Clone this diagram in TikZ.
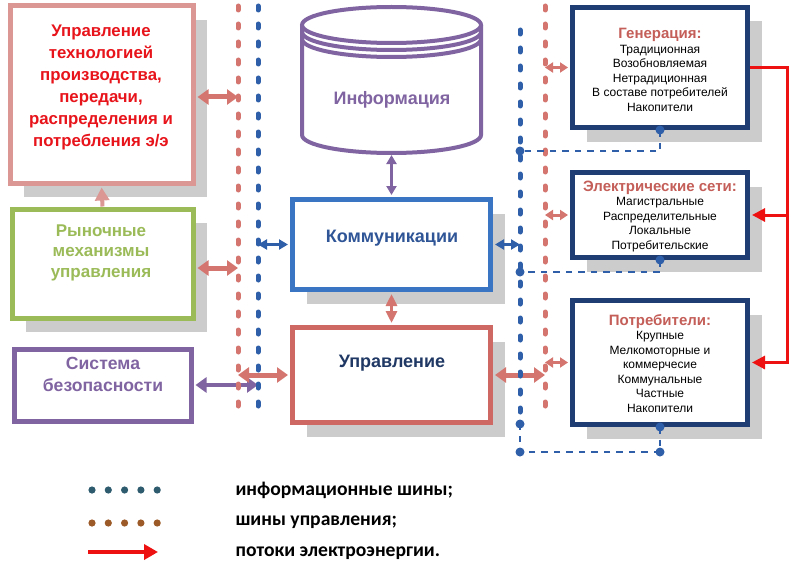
\documentclass[tikz,border=0pt]{standalone}
\usepackage{fontspec}
\setmainfont{Liberation Sans}
\newfontfamily\legendfont{Carlito}
\usetikzlibrary{arrows.meta,shadows}
\definecolor{pinkframe}{HTML}{DB9793}
\definecolor{brightred}{HTML}{E8141B}
\definecolor{greenc}{HTML}{9BBB59}
\definecolor{purplec}{HTML}{8064A2}
\definecolor{blueframe}{HTML}{3A75C4}
\definecolor{bluetext}{HTML}{2F5597}
\definecolor{redframe}{HTML}{CD6863}
\definecolor{navytext}{HTML}{1F3864}
\definecolor{navyframe}{HTML}{1F3C73}
\definecolor{titlered}{HTML}{C45E58}
\definecolor{redbus}{HTML}{D4766F}
\definecolor{bluebus}{HTML}{2E5FA8}
\definecolor{powerred}{HTML}{EE1111}
\definecolor{shadowc}{HTML}{CCCCCC}
\definecolor{legblue}{HTML}{2E5C6E}
\definecolor{legbrown}{HTML}{9C5A28}
\begin{document}
\begin{tikzpicture}[x=1pt,y=-1pt,
  box/.style={draw, line width=5pt, fill=white, inner sep=0pt},
  shad/.style={drop shadow={shadow xshift=14pt, shadow yshift=-14pt, fill=shadowc, opacity=1}},
  bus/.style={line width=5pt, line cap=round, dash pattern=on 4pt off 14pt},
  link/.style={bluebus, line width=2.8pt, dash pattern=on 6.5pt off 6pt},
  dotc/.style={circle, fill=bluebus, inner sep=0pt, minimum size=9pt},
  bigtext/.style={font=\bfseries\fontsize{16.8}{22}\selectfont, align=center},
  midtext/.style={font=\bfseries\fontsize{18}{22}\selectfont, align=center},
  thickarr/.style={line width=5pt, {Triangle[length=11pt,width=15pt]}-{Triangle[length=11pt,width=15pt]}},
  smallarr/.style={line width=3pt, {Triangle[length=8pt,width=10pt]}-{Triangle[length=8pt,width=10pt]}},
  thinarr/.style={line width=2.5pt, {Triangle[length=9pt,width=10pt]}-{Triangle[length=9pt,width=10pt]}},
  pw/.style={powerred, line width=3pt, -{Triangle[length=13pt,width=13pt]}},
  items/.style={font=\fontsize{12}{14.5}\selectfont, align=center},
  legtext/.style={anchor=west, font=\legendfont\bfseries\fontsize{19.6}{21}\selectfont}
]
\useasboundingbox (0,0) rectangle (794,567);

% ---- left boxes
\node[box, shad, draw=pinkframe, minimum width=183pt, minimum height=177pt] (b1) at (101.5,94.5) {};
\node[bigtext, text=brightred] (t1) at (101,87.5) {Управление\\технологией\\производства,\\передачи,\\распределения и\\потребления э/э};
\node[box, shad, draw=greenc, minimum width=181pt, minimum height=109pt] (b2) at (102.5,263.5) {};
\node[bigtext, text=greenc, font=\bfseries\fontsize{17}{20.5}\selectfont] (t2) at (101,252.5) {Рыночные\\механизмы\\управления};
\node[box, draw=purplec, minimum width=177pt, minimum height=72pt] (b3) at (102.5,385) {};
\node[bigtext, text=purplec, font=\bfseries\fontsize{17.6}{22}\selectfont] (t3) at (103,374) {Система\\безопасности};

% ---- cylinder
\begin{scope}[purplec, line width=4pt]
  \fill[white] (302,25) -- (302,135) arc[start angle=180,end angle=360,x radius=89.5pt,y radius=18pt] -- (481,25) -- cycle;
  \draw (302,25) -- (302,135) arc[start angle=180,end angle=360,x radius=89.5pt,y radius=18pt] -- (481,25);
  \draw[fill=white] (391.5,25) ellipse [x radius=89.5pt, y radius=18pt];
  \draw (302,32) arc[start angle=180,end angle=360,x radius=89.5pt,y radius=18pt];
  \draw (302,39) arc[start angle=180,end angle=360,x radius=89.5pt,y radius=18pt];
\end{scope}
\node[midtext, text=purplec] (inf) at (392,100) {Информация};
\coordinate (infbot) at (391.5,155);

% ---- centre boxes
\node[box, shad, draw=blueframe, minimum width=198pt, minimum height=90pt] (komm) at (391.5,244.5) {};
\node[midtext, text=bluetext] (tk) at (392,238) {Коммуникации};
\node[box, shad, draw=redframe, minimum width=198pt, minimum height=95pt] (upr) at (391.5,375) {};
\node[midtext, text=navytext] (tu) at (392,363) {Управление};

% ---- right boxes
\node[box, shad, draw=navyframe, minimum width=175pt, minimum height=120pt] (gen) at (660,67.5) {};
\node[items] (tg) at (660,70) {{\fontsize{15}{14.5}\selectfont\bfseries\color{titlered}Генерация:}\\Традиционная\\Возобновляемая\\Нетрадиционная\\В составе потребителей\\Накопители};
\node[box, shad, draw=navyframe, minimum width=175pt, minimum height=85pt] (seti) at (660,215) {};
\node[items] (ts) at (660,216.5) {{\fontsize{15}{14.5}\selectfont\bfseries\color{titlered}Электрические сети:}\\Магистральные\\Распределительные\\Локальные\\Потребительские};
\node[box, shad, draw=navyframe, minimum width=175pt, minimum height=124pt] (potr) at (660,362.5) {};
\node[items] (tp) at (660,363.5) {{\fontsize{15}{14.5}\selectfont\bfseries\color{titlered}Потребители:}\\Крупные\\Мелкомоторные и\\коммерчесие\\Коммунальные\\Частные\\Накопители};

% ---- bus coordinates
\coordinate (lrt) at (238,6);   \coordinate (lrb) at (238,418);
\coordinate (lbt) at (258,6);   \coordinate (lbb) at (258,418);
\coordinate (rbt) at (520,30);  \coordinate (rbb) at (520,424);
\coordinate (rrt) at (545,6);   \coordinate (rrb) at (545,416);
\coordinate (lr1) at (238,97);
\coordinate (lr2) at (238,268);
\coordinate (lr3) at (238,375);
\coordinate (lb1) at (258,244.5);
\coordinate (lb2) at (258,385);
\coordinate (rb1) at (520,244.5);
\coordinate (rr1) at (545,375);
\coordinate (rr2) at (545,67.5);
\coordinate (rr3) at (545,215);
\coordinate (rr4) at (545,362.5);
\coordinate (rbg) at (520,151);
\coordinate (rbs) at (520,272);
\coordinate (rbp) at (520,452);
\coordinate (pw1) at (787,67.5);
\coordinate (pw2) at (787,215);
\coordinate (pw3) at (787,362.5);

% ---- arrows
\draw[thickarr, redbus, shorten <=2pt] (lr1 -| b1.east) -- (lr1);
\draw[thickarr, redbus, shorten <=2pt] (lr2 -| b2.east) -- (lr2);
\draw[line width=4pt, pinkframe, -{Triangle[length=13pt,width=14pt]}, shorten >=2pt] (b2.north) -- (b1.south);
\draw[thickarr, purplec, line width=4pt, shorten <=2pt] (b3.east) -- (lb2);
\draw[thickarr, redbus, shorten >=2pt] (lr3) -- (upr.west);
\draw[thinarr, bluebus, shorten >=2pt] (lb1) -- (komm.west);
\draw[thinarr, bluebus, shorten <=2pt] (komm.east) -- (rb1);
\draw[thinarr, purplec, shorten >=2pt] (infbot) -- (komm.north);
\draw[line width=3pt, redbus, {Triangle[length=12pt,width=11pt]}-{Triangle[length=12pt,width=11pt]}, shorten <=2pt, shorten >=2pt] (komm.south) -- (upr.north);
\draw[thickarr, redbus, shorten <=2pt] (upr.east) -- (rr1);
\draw[smallarr, redbus, shorten >=2pt] (rr2) -- (gen.west);
\draw[smallarr, redbus, shorten >=2pt] (rr3) -- (seti.west);
\draw[smallarr, redbus, shorten >=2pt] (rr4) -- (potr.west);

% ---- power flows
\draw[pw, shorten >=2pt] (gen.east) -- (pw1) -- (pw3) -- (potr.east);
\draw[pw, shorten >=2pt] (pw2) -- (seti.east);

% ---- buses
\draw[bus, redbus] (lrt) -- (lrb);
\draw[bus, bluebus] (lbt) -- (lbb);
\draw[bus, redbus] (rrt) -- (rrb);
\draw[bus, bluebus] (rbt) -- (rbb);

% ---- info links on the right
\draw[link] (gen.south) -- (gen.south |- rbg) -- (rbg);
\draw[link] (seti.south) -- (seti.south |- rbs) -- (rbs);
\draw[link] (potr.south) -- (potr.south |- rbp) -- (rbp) -- (rbb);
\node[dotc] (dg1) at (gen.south) {};
\node[dotc] (dg2) at (rbg) {};
\node[dotc] (ds1) at (seti.south) {};
\node[dotc] (ds2) at (rbs) {};
\node[dotc] (dp1) at (potr.south) {};
\node[dotc] (dp2) at (rbp) {};
\node[dotc] (dp3) at (rbb) {};
\node[dotc] (dp4) at (potr.south |- rbp) {};

% ---- legend
\foreach \i in {0,...,4} {
  \fill[legblue] (92+16.3*\i,490) circle[radius=3.6pt];
  \fill[legbrown] (92+16.3*\i,523) circle[radius=3.6pt];
}
\coordinate (la1) at (88,552);
\coordinate (la2) at (158,552);
\draw[powerred, line width=4pt, -{Triangle[length=14pt,width=15pt]}] (la1) -- (la2);
\node[legtext] (lg1) at (232,490) {информационные шины;};
\node[legtext] (lg2) at (232,522) {шины управления;};
\node[legtext] (lg3) at (232,553) {потоки электроэнергии.};
\end{tikzpicture}
\end{document}
